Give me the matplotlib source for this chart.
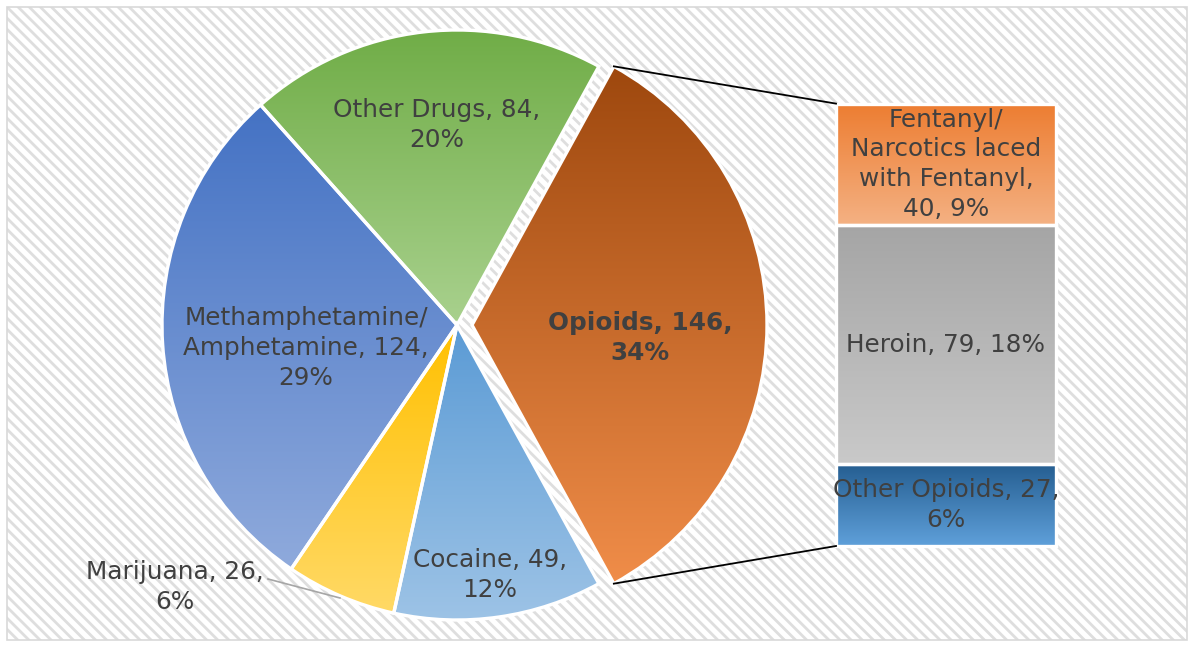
import numpy as np
import matplotlib
matplotlib.use('Agg')
import matplotlib.pyplot as plt
from matplotlib.colors import LinearSegmentedColormap
from matplotlib.patches import Rectangle

# dados
pie_cats = ['Opioids', 'Other Drugs', 'Methamphetamine/Amphetamine', 'Marijuana', 'Cocaine']
pie_values = [146, 84, 124, 26, 49]
pie_texts = ['Opioids, 146,\n34%',
             'Other Drugs, 84,\n20%',
             'Methamphetamine/\nAmphetamine, 124,\n29%',
             'Marijuana, 26,\n6%',
             'Cocaine, 49,\n12%']

bar_cats = ['Other Opioids', 'Heroin', 'Fentanyl/Narcotics laced with Fentanyl']
bar_values = [27, 79, 40]
bar_texts = ['Other Opioids, 27,\n6%',
             'Heroin, 79, 18%',
             'Fentanyl/\nNarcotics laced\nwith Fentanyl,\n40, 9%']

# cores (topo, base) do gradiente
pie_cor_topo = ['#9E480E', '#70AD47', '#4472C4', '#FFC000', '#5B9BD5']
pie_cor_base = ['#F08D49', '#A9D18E', '#8FAADC', '#FFD966', '#9DC3E6']
bar_cor_topo = ['#255E91', '#A5A5A5', '#ED7D31']
bar_cor_base = ['#5FA0DA', '#C9C9C9', '#F4B183']

plt.rcParams['font.family'] = ['DejaVu Sans']
plt.rcParams['hatch.linewidth'] = 2.0
cor_texto = '#404040'
fs = 17.8
esp = 1.3


def gradiente(ax, patch, c_topo, c_base):
    x0, y0, x1, y1 = patch.get_path().get_extents(patch.get_patch_transform()).extents
    cmap = LinearSegmentedColormap.from_list('g', [c_base, c_topo])
    grad = np.linspace(0, 1, 256).reshape(-1, 1)
    im = ax.imshow(grad, cmap=cmap, extent=(x0, x1, y0, y1), origin='lower',
                   aspect='auto', zorder=1, interpolation='bilinear')
    im.set_clip_path(patch)
    patch.set_facecolor('none')
    patch.set_zorder(2)


fig = plt.figure(figsize=(11.9, 6.45), dpi=100)
ax = fig.add_axes([0, 0, 1, 1])

# fundo hachurado + borda
ax.add_patch(Rectangle((7, 5), 1180, 633, facecolor='white', edgecolor='#DEDEDE',
                       hatch='\\' * 3, linewidth=0, zorder=0))
ax.add_patch(Rectangle((7, 5), 1180, 633, fill=False, edgecolor='#D9D9D9',
                       linewidth=1.2, zorder=0.5))

# pizza principal
total = sum(pie_values)
inicio = -180.0 * pie_values[0] / total
wedges, _ = ax.pie(pie_values, center=(457, 320), radius=295, startangle=inicio,
                   counterclock=True, explode=[15, 0, 0, 0, 0],
                   wedgeprops=dict(edgecolor='white', linewidth=2.4))
for w, ct, cb in zip(wedges, pie_cor_topo, pie_cor_base):
    gradiente(ax, w, ct, cb)

# barra de detalhamento
escala = 3.03
base = 99
bars = []
for v, ct, cb, txt in zip(bar_values, bar_cor_topo, bar_cor_base, bar_texts):
    b = ax.bar(946, v * escala, bottom=base, width=220, edgecolor='white', linewidth=2.4)[0]
    gradiente(ax, b, ct, cb)
    ax.text(946, base + v * escala / 2, txt, ha='center', va='center', fontsize=fs,
            color=cor_texto, linespacing=esp, zorder=5)
    bars.append(b)
    base += v * escala

# linhas de conexao
w0 = wedges[0]
cx, cy = w0.center
p_topo = (cx + w0.r * np.cos(np.radians(w0.theta2)), cy + w0.r * np.sin(np.radians(w0.theta2)))
p_base = (cx + w0.r * np.cos(np.radians(w0.theta1)), cy + w0.r * np.sin(np.radians(w0.theta1)))
bx = bars[0].get_x()
ax.plot([p_topo[0], bx], [p_topo[1], base], color='black', lw=1.3, zorder=3)
ax.plot([p_base[0], bx], [p_base[1], 99], color='black', lw=1.3, zorder=3)

# rotulos da pizza
pos_rotulos = [(640, 307), (437, 520), (306, 297), (175, 58), (490, 70)]
for i, (txt, (x, y)) in enumerate(zip(pie_texts, pos_rotulos)):
    ax.text(x, y, txt, ha='center', va='center', fontsize=fs, color=cor_texto,
            linespacing=esp, fontweight='bold' if i == 0 else 'normal', zorder=5)

# linha guia marijuana
ax.plot([268, 340], [66, 47], color='#A6A6A6', lw=1.2, zorder=3)

ax.set_xlim(0, 1190)
ax.set_ylim(0, 645)
ax.set_aspect('equal')
ax.axis('off')

fig.savefig('out.png', dpi=100)
